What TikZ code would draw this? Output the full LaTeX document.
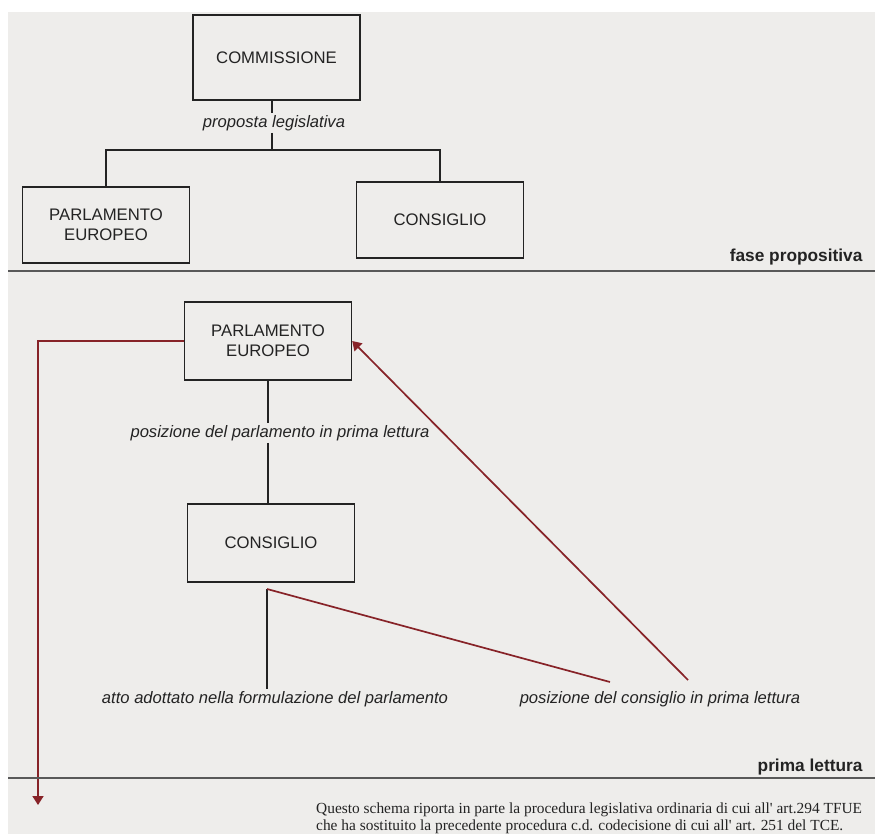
\documentclass[tikz,border=0pt]{standalone}
\usepackage{fontspec}
\setmainfont{Liberation Sans}
\newfontfamily\footfont{Liberation Serif}
\usetikzlibrary{arrows.meta}
\definecolor{panel}{RGB}{238,237,235}
\definecolor{ink}{RGB}{35,35,35}
\definecolor{redline}{RGB}{135,35,40}
\tikzset{
  box/.style={draw=ink, line width=1.4pt, fill=panel, text=ink, align=center,
    minimum width=167pt, minimum height=78pt, font=\fontsize{16.7}{19.5}\selectfont},
  lab/.style={text=ink, inner sep=2pt, font=\fontsize{16.6}{19}\selectfont\itshape},
  phase/.style={text=ink, anchor=east, font=\fontsize{17.3}{19}\selectfont\bfseries},
  link/.style={draw=ink, line width=1.4pt},
  sep/.style={draw=black!65, line width=2pt},
  redlink/.style={draw=redline, line width=1.7pt},
  redarrow/.style={redlink, -{Triangle[width=11pt,length=9pt]}}
}
\begin{document}
\begin{tikzpicture}[x=1pt,y=-1pt]
  \useasboundingbox (0,0) rectangle (875,834);
  \clip (0,0) rectangle (875,834);
  \fill[panel] (8,12) rectangle (875,834);
  % fase propositiva
  \node[box, minimum height=85pt] (comm) at (276.5,57.5) {COMMISSIONE};
  \node[lab] (prop) at (274,123) {proposta legislativa};
  \node[box, minimum height=76pt] (pe1) at (106,225) {PARLAMENTO\\EUROPEO};
  \node[box, minimum height=76pt] (cons1) at (440,220) {CONSIGLIO};
  \coordinate (fork) at (272,150);
  \draw[link] (fork |- comm.south) -- (fork |- prop.north);
  \draw[link] (fork |- prop.south) -- (fork);
  \draw[link] (pe1.north) |- (fork) -| (cons1.north);
  \node[phase] (fase1) at (866,257) {fase propositiva};
  \draw[sep] (8,271) -- (875,271);
  % prima lettura
  \node[box] (pe2) at (268,341) {PARLAMENTO\\EUROPEO};
  \node[lab] (posparl) at (280,433) {posizione del parlamento in prima lettura};
  \node[box] (cons2) at (271,543) {CONSIGLIO};
  \draw[link] (pe2.south) -- (pe2.south |- posparl.north);
  \draw[link] (pe2.south |- posparl.south) -- (pe2.south |- cons2.north);
  \coordinate (split) at (267,589);
  \node[lab] (atto) at (275,699) {atto adottato nella formulazione del parlamento};
  \node[lab] (poscons) at (660,699) {posizione del consiglio in prima lettura};
  \coordinate (rc1) at (610,682);
  \coordinate (rc2) at (688,680);
  \coordinate (out) at (38,805);
  \draw[link] (split) -- (split |- atto.north);
  \draw[redlink] (split) -- (rc1);
  \draw[redarrow] (rc2) -- (pe2.east);
  \draw[redarrow] (pe2.west) -| (out);
  \node[phase] (fase2) at (866,767) {prima lettura};
  \draw[sep] (8,778) -- (875,778);
  % nota
  \node[anchor=north west, inner sep=0pt, text=ink, align=left,
    font=\footfont\fontsize{15.4}{17}\selectfont] (nota) at (316,803)
    {Questo schema riporta in parte la procedura legislativa ordinaria di cui all' art.294 TFUE\\
     che ha sostituito la precedente procedura c.d. codecisione di cui all' art. 251 del TCE.};
\end{tikzpicture}
\end{document}
